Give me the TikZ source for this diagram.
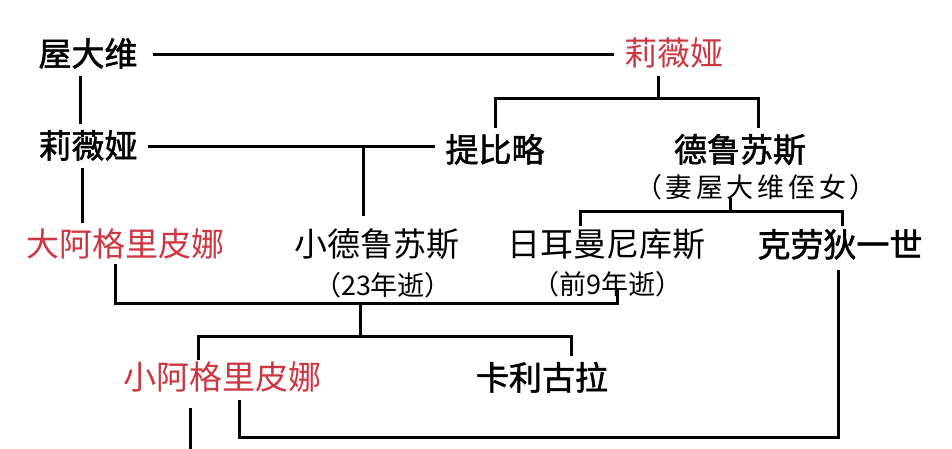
\documentclass[tikz,border=0pt]{standalone}
\usepackage{fontspec}
\newfontfamily\cjk{Noto Sans CJK SC}
\newfontfamily\cjkb[FakeBold=1.6]{Noto Sans CJK SC}
\definecolor{namered}{RGB}{205,55,65}
\begin{document}
\begin{tikzpicture}[x=1pt,y=-1pt,
  every node/.style={inner sep=0pt,outer xsep=12pt,outer ysep=9pt,font=\cjk\fontsize{33}{35}\selectfont,text height=26.4pt,text depth=2.6pt},
  bname/.style={font=\cjkb\fontsize{33}{35}\selectfont},
  rname/.style={text=namered},
  sub/.style={font=\cjk\fontsize{27}{29}\selectfont,outer sep=0pt,text height=21.6pt,text depth=2.2pt},
  link/.style={line width=3pt,line cap=rect}]
\useasboundingbox[fill=white] (0,0) rectangle (952,448);
% nodes
\node[bname] (oct) at (88,54) {屋大维};
\node[rname] (liviaR) at (674,54) {莉薇娅};
\node[bname] (livia) at (88,146) {莉薇娅};
\node[bname] (tib) at (495,150) {提比略};
\node[bname] (dru) at (740,150) {德鲁苏斯};
\node[sub] (druwife) at (756,188) {（\kern3pt 妻\kern4pt 屋\kern4pt 大\kern4pt 维\kern4pt 侄\kern4pt 女\kern3pt ）};
\node[rname] (agr) at (125,245) {大阿格里皮娜};
\node (drj) at (377,245) {小德鲁苏斯};
\node[sub] (drjd) at (383,286) {（23年逝）};
\node (ger) at (606,245) {日耳曼尼库斯};
\node[sub] (gerd) at (607,285) {（前9年逝）};
\node[bname] (cla) at (840,245) {克劳狄一世};
\node[rname] (agrj) at (222,378) {小阿格里皮娜};
\node[bname] (cal) at (542,378) {卡利古拉};
% junctions
\coordinate (j1) at (658,98);
\coordinate (j2) at (730,211);
\coordinate (j3) at (360,303);
\coordinate (j4) at (360,336);
\coordinate (j5) at (538,437);
\coordinate (bot) at (190,452);
% connectors
\draw[link,shorten <=5pt] (oct.east) -- (liviaR.west);
\draw[link] (oct.south -| 80,0) -- (80,0 |- livia.north);
\draw[link] (liviaR.south -| j1) -- (j1);
\draw[link] (tib.north) |- (j1) -| (dru.north -| 758,0);
\draw[link] (livia.east) -- (livia.east -| tib.west);
\draw[link] (livia.east -| 363,0) -- ([yshift=7pt]drj.north -| 363,0);
\draw[link] (livia.south -| 82,0) -- (82,0 |- agr.north);
\draw[link] (druwife.south -| j2) -- (j2);
\draw[link] ([yshift=-3pt]ger.north -| 580,0) |- (j2) -| ([yshift=-3pt]cla.north -| 842,0);
\draw[link] ([yshift=3pt]agr.south -| 115,0) |- (j3) -| ([yshift=7pt]gerd.south -| 617,0);
\draw[link] (j3) -- (j4);
\draw[link] ([yshift=-4pt]agrj.north -| 198,0) |- (j4) -| (cal.north -| 571,0);
\draw[link] (agrj.south -| 239,0) |- (j5) -| ([yshift=-3pt]cla.south -| 838,0);
\draw[link] ([yshift=-8pt]agrj.south -| bot) -- (bot);
\end{tikzpicture}
\end{document}
